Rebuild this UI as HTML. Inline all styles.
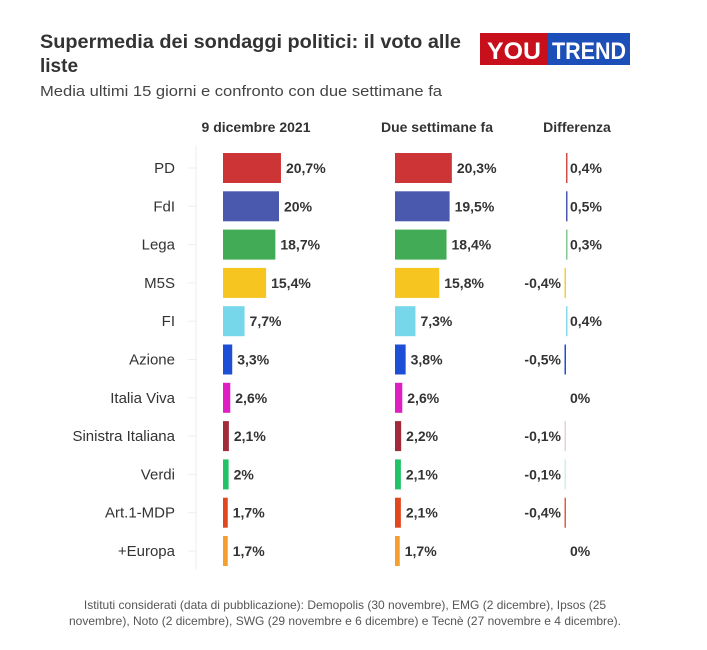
<!DOCTYPE html>
<html><head><meta charset="utf-8"><style>
body{margin:0;background:#fff;width:707px;height:645px;overflow:hidden}
svg text{font-family:"Liberation Sans",sans-serif}
</style></head><body>
<svg width="707" height="645" xmlns="http://www.w3.org/2000/svg">
<text x="40" y="48" font-size="19" font-weight="bold" fill="#333" textLength="421" lengthAdjust="spacingAndGlyphs">Supermedia dei sondaggi politici: il voto alle</text>
<text x="40" y="72" font-size="19" font-weight="bold" fill="#333">liste</text>
<text x="40" y="96" font-size="15" fill="#444" textLength="402" lengthAdjust="spacingAndGlyphs">Media ultimi 15 giorni e confronto con due settimane fa</text>
<rect x="480" y="33" width="68" height="32" fill="#c8101c"/>
<rect x="548" y="33" width="82" height="32" fill="#1d4fb8"/>
<text x="487" y="59" font-size="24" font-weight="bold" fill="#fff" textLength="54" lengthAdjust="spacingAndGlyphs">YOU</text>
<text x="552" y="59" font-size="24" font-weight="bold" fill="#fff" textLength="74" lengthAdjust="spacingAndGlyphs">TREND</text>
<g font-size="14" font-weight="bold" fill="#333" text-anchor="middle">
<text x="256" y="132">9 dicembre 2021</text>
<text x="437" y="132">Due settimane fa</text>
<text x="577" y="132">Differenza</text>
</g>
<line x1="196" y1="145" x2="196" y2="570" stroke="#eee"/>
<g id="rows"></g>
<text x="345" y="609" font-size="12" fill="#555" text-anchor="middle">Istituti considerati (data di pubblicazione): Demopolis (30 novembre), EMG (2 dicembre), Ipsos (25</text>
<text x="345" y="625" font-size="12" fill="#555" text-anchor="middle">novembre), Noto (2 dicembre), SWG (29 novembre e 6 dicembre) e Tecnè (27 novembre e 4 dicembre).</text>
</svg>
<script>
var d=[["PD",20.7,20.3,"#cc3436"],["FdI",20,19.5,"#4a58ae"],["Lega",18.7,18.4,"#41ab55"],["M5S",15.4,15.8,"#f6c51f"],["FI",7.7,7.3,"#76d6ea"],["Azione",3.3,3.8,"#1d4ed6"],["Italia Viva",2.6,2.6,"#e01fc2"],["Sinistra Italiana",2.1,2.2,"#a12b3b"],["Verdi",2,2.1,"#22c266"],["Art.1-MDP",1.7,2.1,"#e2461f"],["+Europa",1.7,1.7,"#f5a02e"]];
var s="",k=2.8;
function f(v){return (Math.round(v*10)/10).toString().replace(".",",")+"%";}
d.forEach(function(r,i){var c=168+i*38.3;var y=c-15;
s+='<text x="175" y="'+(c+5)+'" font-size="15" fill="#333" text-anchor="end">'+r[0]+'</text>';
s+='<line x1="188" y1="'+c+'" x2="196" y2="'+c+'" stroke="#eee"/>';
var w1=r[1]*k,w2=r[2]*k;
s+='<rect x="223" y="'+y+'" width="'+w1+'" height="30" fill="'+r[3]+'"/>';
s+='<text x="'+(228+w1)+'" y="'+(c+5)+'" font-size="14" font-weight="bold" fill="#333">'+f(r[1])+'</text>';
s+='<rect x="395" y="'+y+'" width="'+w2+'" height="30" fill="'+r[3]+'"/>';
s+='<text x="'+(400+w2)+'" y="'+(c+5)+'" font-size="14" font-weight="bold" fill="#333">'+f(r[2])+'</text>';
var dv=Math.round((r[1]-r[2])*10)/10;
if(dv!=0){var op=Math.min(1,Math.abs(dv)*2.2);s+='<rect x="'+(dv>0?566:564.5)+'" y="'+y+'" width="1.5" height="30" fill="'+r[3]+'" opacity="'+op+'"/>';}
if(dv>0)s+='<text x="570" y="'+(c+5)+'" font-size="14" font-weight="bold" fill="#333">'+f(dv)+'</text>';
else if(dv<0)s+='<text x="561" y="'+(c+5)+'" font-size="14" font-weight="bold" fill="#333" text-anchor="end">'+f(dv)+'</text>';
else s+='<text x="570" y="'+(c+5)+'" font-size="14" font-weight="bold" fill="#333">0%</text>';
});
document.getElementById("rows").innerHTML=s;
</script>
</body></html>
